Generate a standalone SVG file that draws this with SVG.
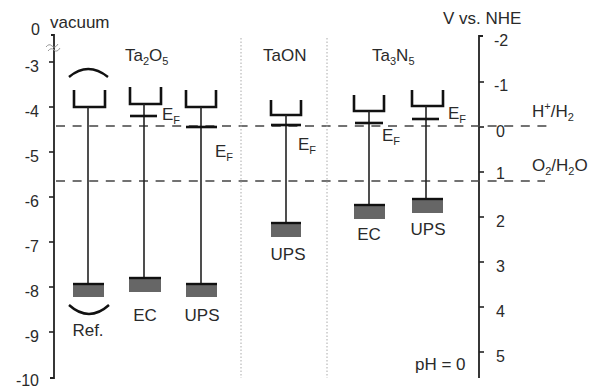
<svg xmlns="http://www.w3.org/2000/svg" width="594" height="391" viewBox="0 0 594 391">
<style>
text{font-family:"Liberation Sans",Arial,sans-serif;fill:#2a2a2a}
.lab{font-size:17px}
.num{font-size:16px}
.sub{font-size:11px}
.axis{stroke:#222;stroke-width:1.8;fill:none}
.tick{stroke:#222;stroke-width:1.6}
.cb{stroke:#111;stroke-width:2.6;fill:none}
.stem{stroke:#222;stroke-width:1.6}
.ef{stroke:#111;stroke-width:2.6}
.vb{fill:#666;stroke:none}
.vbt{stroke:#111;stroke-width:2.4}
.dash{stroke:#444;stroke-width:1.4;stroke-dasharray:9 7.6}
.sep{stroke:#aaa;stroke-width:1;stroke-dasharray:1.5 2}
.arc{stroke:#111;stroke-width:2.4;fill:none}
</style>

<g id="axes">
  <path class="axis" d="M51,35 H54 V378 H50"/>
  <g class="tick">
    <line x1="49" y1="62" x2="54" y2="62"/>
    <line x1="49" y1="107" x2="54" y2="107"/>
    <line x1="49" y1="152" x2="54" y2="152"/>
    <line x1="49" y1="197" x2="54" y2="197"/>
    <line x1="49" y1="242" x2="54" y2="242"/>
    <line x1="49" y1="287" x2="54" y2="287"/>
    <line x1="49" y1="332" x2="54" y2="332"/>
  </g>
  <path d="M46,47 q3,-4 6,-1 t6,-2 M48,51 q3,-4 6,-1 t6,-2" stroke="#999" stroke-width="1" fill="none"/>
  <g class="num" text-anchor="end">
    <text x="40" y="35">0</text>
    <text x="39" y="72">-3</text>
    <text x="39" y="117">-4</text>
    <text x="39" y="162">-5</text>
    <text x="39" y="207">-6</text>
    <text x="39" y="252">-7</text>
    <text x="39" y="297">-8</text>
    <text x="39" y="342">-9</text>
    <text x="39" y="386">-10</text>
  </g>
  <text class="lab" x="50" y="28">vacuum</text>

  <path class="axis" d="M483,36 H479 V378"/>
  <g class="tick">
    <line x1="479" y1="82" x2="484" y2="82"/>
    <line x1="479" y1="127" x2="484" y2="127"/>
    <line x1="479" y1="172" x2="484" y2="172"/>
    <line x1="479" y1="217" x2="484" y2="217"/>
    <line x1="479" y1="262" x2="484" y2="262"/>
    <line x1="479" y1="307" x2="484" y2="307"/>
    <line x1="479" y1="352" x2="484" y2="352"/>
  </g>
  <g class="num">
    <text x="494" y="46">-2</text>
    <text x="494" y="91">-1</text>
    <text x="496" y="137">0</text>
    <text x="496" y="179">1</text>
    <text x="496" y="227">2</text>
    <text x="496" y="272">3</text>
    <text x="496" y="317">4</text>
    <text x="496" y="362">5</text>
  </g>
  <text class="lab" x="443" y="24">V vs. NHE</text>
  <text class="lab" x="415" y="370">pH = 0</text>
</g>

<g id="connectors">
  <line class="dash" x1="56" y1="126" x2="547" y2="126"/>
  <line class="dash" x1="56" y1="181" x2="545" y2="181"/>
  <line class="sep" x1="241" y1="38" x2="241" y2="378"/>
  <line class="sep" x1="327" y1="38" x2="327" y2="378"/>
</g>

<g id="redox-labels">
  <text class="lab" x="532" y="117">H<tspan class="sub" dy="-7">+</tspan><tspan dy="7">/H</tspan><tspan class="sub" dy="4">2</tspan></text>
  <text class="lab" x="532" y="171">O<tspan class="sub" dy="4">2</tspan><tspan dy="-4">/H</tspan><tspan class="sub" dy="4">2</tspan><tspan dy="-4">O</tspan></text>
</g>

<g id="headers">
  <text class="lab" x="125" y="61">Ta<tspan class="sub" dy="4">2</tspan><tspan dy="-4">O</tspan><tspan class="sub" dy="4">5</tspan></text>
  <text class="lab" x="263" y="61">TaON</text>
  <text class="lab" x="372" y="61">Ta<tspan class="sub" dy="4">3</tspan><tspan dy="-4">N</tspan><tspan class="sub" dy="4">5</tspan></text>
</g>

<g id="ta2o5-ref">
  <path class="arc" d="M69,77 Q88,61 108,77"/>
  <path class="cb" d="M74,90 V107 H105 V90"/>
  <line class="stem" x1="88" y1="107" x2="88" y2="283"/>
  <rect class="vb" x="73" y="283" width="31" height="14"/>
  <line class="vbt" x1="73" y1="284" x2="104" y2="284"/>
  <path class="arc" d="M69,305 Q89,323 109,305"/>
  <text class="lab" x="88" y="336" text-anchor="middle">Ref.</text>
</g>

<g id="ta2o5-ec">
  <path class="cb" d="M130,87 V104 H161 V87"/>
  <line class="stem" x1="144" y1="104" x2="144" y2="277"/>
  <line class="ef" x1="130" y1="116" x2="157" y2="116"/>
  <text class="lab" x="162" y="120">E<tspan class="sub" dy="4">F</tspan></text>
  <rect class="vb" x="129" y="277" width="32" height="15"/>
  <line class="vbt" x1="129" y1="278" x2="161" y2="278"/>
  <text class="lab" x="145" y="321" text-anchor="middle">EC</text>
</g>

<g id="ta2o5-ups">
  <path class="cb" d="M186,90 V107 H216 V90"/>
  <line class="stem" x1="201" y1="107" x2="201" y2="283"/>
  <line class="ef" x1="186" y1="127" x2="217" y2="127"/>
  <text class="lab" x="215" y="157">E<tspan class="sub" dy="4">F</tspan></text>
  <rect class="vb" x="186" y="283" width="31" height="14"/>
  <line class="vbt" x1="186" y1="284" x2="217" y2="284"/>
  <text class="lab" x="202" y="321" text-anchor="middle">UPS</text>
</g>

<g id="taon-ups">
  <path class="cb" d="M271,100 V115 H301 V100"/>
  <line class="stem" x1="286" y1="115" x2="286" y2="222"/>
  <line class="ef" x1="271" y1="125" x2="301" y2="125"/>
  <text class="lab" x="298" y="150">E<tspan class="sub" dy="4">F</tspan></text>
  <rect class="vb" x="271" y="222" width="30" height="15"/>
  <line class="vbt" x1="271" y1="223" x2="301" y2="223"/>
  <text class="lab" x="288" y="260" text-anchor="middle">UPS</text>
</g>

<g id="ta3n5-ec">
  <path class="cb" d="M354,95 V111 H384 V95"/>
  <line class="stem" x1="369" y1="111" x2="369" y2="204"/>
  <line class="ef" x1="355" y1="123" x2="383" y2="123"/>
  <text class="lab" x="382" y="141">E<tspan class="sub" dy="4">F</tspan></text>
  <rect class="vb" x="354" y="204" width="31" height="15"/>
  <line class="vbt" x1="354" y1="205" x2="385" y2="205"/>
  <text class="lab" x="369" y="240" text-anchor="middle">EC</text>
</g>

<g id="ta3n5-ups">
  <path class="cb" d="M412,90 V106 H443 V90"/>
  <line class="stem" x1="426" y1="106" x2="426" y2="198"/>
  <line class="ef" x1="412" y1="119" x2="439" y2="119"/>
  <text class="lab" x="448" y="119">E<tspan class="sub" dy="4">F</tspan></text>
  <rect class="vb" x="412" y="198" width="31" height="15"/>
  <line class="vbt" x1="412" y1="199" x2="443" y2="199"/>
  <text class="lab" x="428" y="235" text-anchor="middle">UPS</text>
</g>
</svg>
